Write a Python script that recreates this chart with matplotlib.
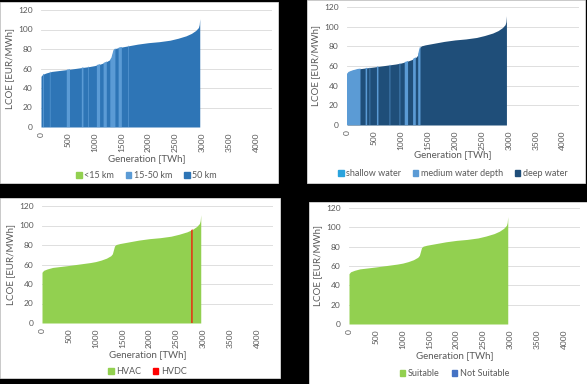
import matplotlib.pyplot as plt
from matplotlib.patches import Rectangle

# supply curve
gen = [0, 30, 100, 200, 350, 500, 700, 900, 1000, 1100, 1200, 1280, 1310, 1330,
       1350, 1380, 1450, 1600, 1800, 2000, 2200, 2400, 2550, 2700, 2800, 2880,
       2930, 2945, 2955]
lcoe = [52, 54, 55.5, 57, 58, 59, 60.5, 62, 63, 64.5, 66.5, 69, 71, 75,
        79, 80.5, 81.5, 83, 85, 86.5, 87.5, 89, 91, 93.5, 96, 99,
        102, 105, 111]

x_ticks = [0, 500, 1000, 1500, 2000, 2500, 3000, 3500, 4000]
y_ticks = [0, 20, 40, 60, 80, 100, 120]

# stripes: start [TWh], width [TWh]
dist_mid_start = [40, 165, 480, 760, 880, 1040, 1165, 1290, 1445, 1625]
dist_mid_width = [15, 12, 60, 30, 12, 60, 60, 95, 60, 12]

depth_mid_start = [0, 345, 420, 555, 790, 975, 1070, 1225, 1320]
depth_mid_width = [250, 28, 10, 28, 12, 12, 62, 50, 42]

hvdc_start = [2780]
hvdc_width = [22]

GREEN = '#92D050'
GREY = '#595959'

W, H = 587, 384
fig = plt.figure(figsize=(W / 100, H / 100), dpi=100, facecolor='black')
plt.rcParams['font.family'] = ['Lato', 'DejaVu Sans']


def px_box(left, top, right, bottom):
    return [left / W, 1 - bottom / H, (right - left) / W, (bottom - top) / H]


def draw_panel(panel, plot, base, stripes, labels, colors, xlab_y, leg_y):
    fig.add_artist(Rectangle((panel[0] / W, 1 - panel[3] / H),
                             (panel[2] - panel[0]) / W, (panel[3] - panel[1]) / H,
                             transform=fig.transFigure, facecolor='white',
                             edgecolor='#D9D9D9', lw=0.6, zorder=0))
    ax = fig.add_axes(px_box(*plot))
    ax.set_facecolor('none')
    area = ax.fill_between(gen, lcoe, color=base, lw=0, zorder=2)
    clip = area.get_paths()[0]
    for color, starts, widths in stripes:
        bars = ax.bar(starts, [130] * len(starts), width=widths, align='edge',
                      facecolor=color, edgecolor='none', lw=0, zorder=3)
        for b in bars:
            b.set_snap(False)
            b.set_clip_path(clip, ax.transData)
    ax.set_xlim(0, 4300)
    ax.set_ylim(0, 120)
    ax.set_xticks(x_ticks)
    ax.set_xticklabels([str(t) for t in x_ticks], rotation=90)
    ax.set_yticks(y_ticks)
    ax.tick_params(length=0, labelsize=6, labelcolor=GREY)
    ax.tick_params(axis='y', pad=6)
    ax.tick_params(axis='x', pad=4)
    ax.grid(axis='y', color='#D9D9D9', lw=0.6, zorder=1)
    ax.set_axisbelow(True)
    for s in ax.spines.values():
        s.set_visible(False)
    ax.set_ylabel('LCOE [EUR/MWh]', fontsize=7, color=GREY, labelpad=3)
    mid = (plot[0] + plot[2]) / 2 - 10
    fig.text(mid / W, 1 - xlab_y / H, 'Generation [TWh]', fontsize=7,
             color=GREY, ha='center', va='center')
    handles = [Rectangle((0, 0), 1, 1, color=c) for c in colors]
    ax.legend(handles, labels, loc='center', ncol=len(labels), frameon=False,
              bbox_to_anchor=(mid / W, 1 - leg_y / H), bbox_transform=fig.transFigure,
              fontsize=6.5, labelcolor=GREY, handlelength=0.6, handleheight=0.6,
              handletextpad=0.3, columnspacing=1.3)
    return ax


draw_panel((0, 2, 278, 183), (41, 10, 272, 127), '#2E75B6',
           [('#5B9BD5', dist_mid_start, dist_mid_width)],
           ['<15 km', '15-50 km', '50 km'], [GREEN, '#5B9BD5', '#2E75B6'],
           159, 176)

draw_panel((307, 0, 585, 183), (347, 7, 579, 125), '#1F4E79',
           [('#5B9BD5', depth_mid_start, depth_mid_width)],
           ['shallow water', 'medium water depth', 'deep water'],
           ['#2AA3DD', '#5B9BD5', '#1F4E79'], 155, 174)

draw_panel((0, 198, 280, 378), (42, 206, 273, 323), GREEN,
           [('#FF0000', hvdc_start, hvdc_width)],
           ['HVAC', 'HVDC'], [GREEN, '#FF0000'], 355, 372)

draw_panel((309, 202, 587, 384), (349, 208, 580, 324), GREEN, [],
           ['Suitable', 'Not Suitable'], [GREEN, '#4472C4'], 356, 374)

fig.savefig('out.png', dpi=100, facecolor='black')
